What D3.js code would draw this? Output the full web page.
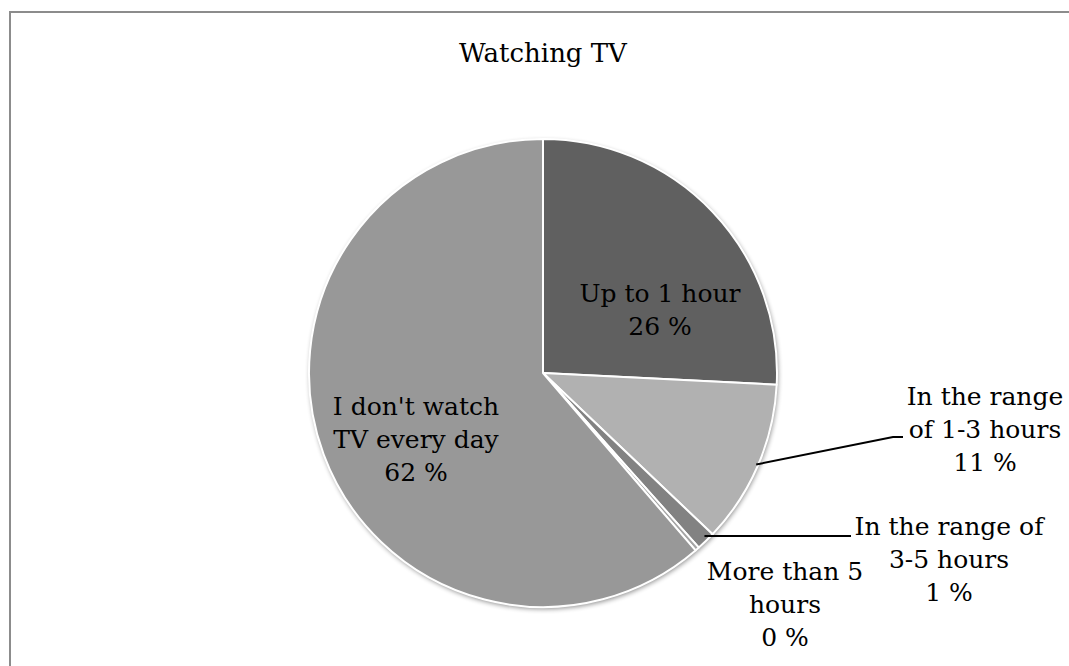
<!DOCTYPE html>
<html><head><meta charset="utf-8">
<script src="https://cdn.jsdelivr.net/npm/d3@7"></script>
<style>body{margin:0;background:#fff}svg{display:block}</style>
</head><body>
<script>
const categories = ["Up to 1 hour", "In the range of 1-3 hours", "In the range of 3-5 hours", "More than 5 hours", "I don't watch TV every day"];
const values = [25.8, 11.3, 1.3, 0.3, 61.3];
const percentLabels = ["26 %", "11 %", "1 %", "0 %", "62 %"];
const colors = ["#606060", "#b1b1b1", "#828282", "#a5a5a5", "#989898"];

// label layout (line breaks, centre x and first baseline)
const labelLines = [
  ["Up to 1 hour", "26 %"],
  ["In the range", "of 1-3 hours", "11 %"],
  ["In the range of", "3-5 hours", "1 %"],
  ["More than 5", "hours", "0 %"],
  ["I don't watch", "TV every day", "62 %"]
];
const labelPos = [[660, 302], [985, 405], [949, 535], [785, 580], [416, 415]];

const W = 1069, H = 666;
const cx = 543, cy = 373, R = 234;
const svg = d3.select("body").append("svg").attr("width", W).attr("height", H);

svg.append("rect").attr("x", 10).attr("y", 12).attr("width", 1100).attr("height", 700)
  .attr("fill", "#fff").attr("stroke", "#8c8c8c").attr("stroke-width", 2);

svg.append("text").attr("x", 543).attr("y", 62).attr("text-anchor", "middle")
  .attr("font-family", "DejaVu Serif").attr("font-size", 26).attr("fill", "#000").text("Watching TV");

const defs = svg.append("defs");
const f = defs.append("filter").attr("id", "sh").attr("x", "-10%").attr("y", "-10%").attr("width", "120%").attr("height", "120%");
f.append("feGaussianBlur").attr("in", "SourceAlpha").attr("stdDeviation", 2.5);
f.append("feOffset").attr("dx", 1).attr("dy", 2).attr("result", "b");
f.append("feComponentTransfer").append("feFuncA").attr("type", "linear").attr("slope", 0.45);
const m = f.append("feMerge");
m.append("feMergeNode");
m.append("feMergeNode").attr("in", "SourceGraphic");

const pie = d3.pie().sort(null).value(d => d)(values);
const arc = d3.arc().innerRadius(0).outerRadius(R);
const g = svg.append("g").attr("transform", `translate(${cx},${cy})`);
g.append("circle").attr("r", R).attr("fill", "#fff").attr("filter", "url(#sh)");
g.selectAll("path.s").data(pie).enter().append("path").attr("class", "s")
  .attr("d", arc).attr("fill", (d, i) => colors[i])
  .attr("stroke", "#fff").attr("stroke-width", 2).attr("stroke-linejoin", "round");

// leader lines
function pt(d, frac) {
  const a = d.startAngle + (d.endAngle - d.startAngle) * frac;
  return [cx + (R - 2) * Math.sin(a), cy - (R - 2) * Math.cos(a)];
}
const p1 = pt(pie[1], 0.5);
svg.append("path").attr("d", d3.line()([p1, [893, 437], [903, 437]]))
  .attr("fill", "none").attr("stroke", "#000").attr("stroke-width", 2);
const p2 = pt(pie[2], 0.5);
svg.append("path").attr("d", d3.line()([[p2[0], 536], [851, 536]]))
  .attr("fill", "none").attr("stroke", "#000").attr("stroke-width", 2);

labelLines.forEach((lines, i) => {
  const t = svg.append("text").attr("text-anchor", "middle")
    .attr("font-family", "DejaVu Serif").attr("font-size", 25).attr("fill", "#000");
  lines.forEach((ln, j) => {
    t.append("tspan").attr("x", labelPos[i][0]).attr("y", labelPos[i][1] + j * 33).text(ln);
  });
});
</script>
</body></html>
